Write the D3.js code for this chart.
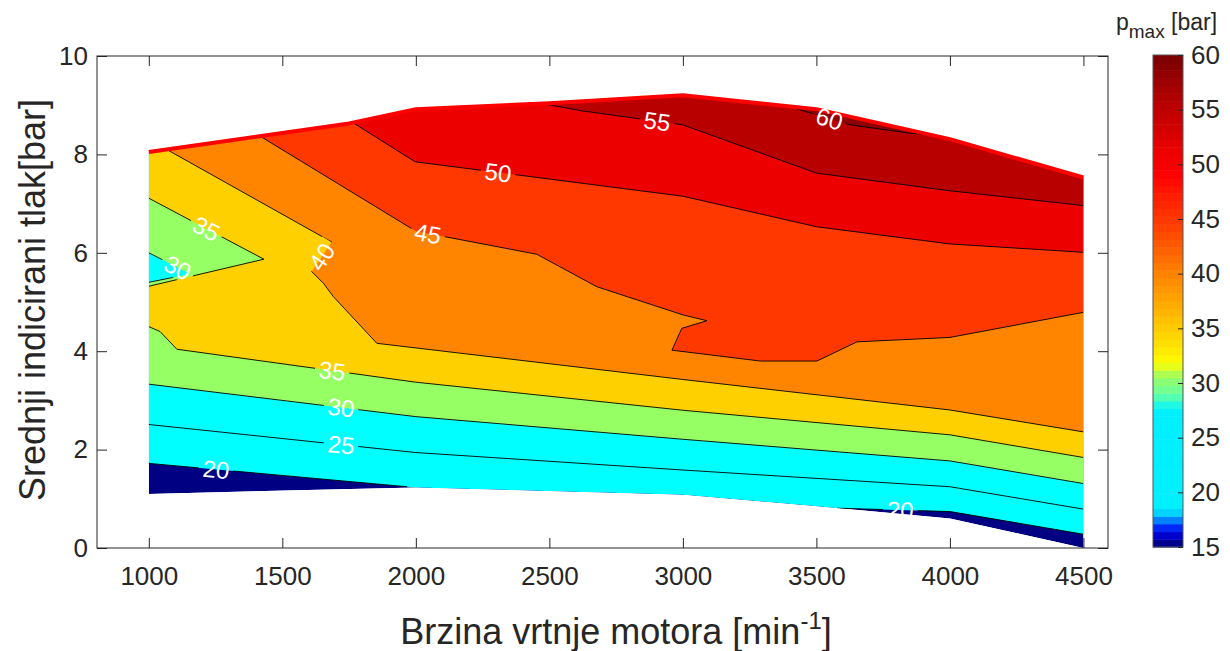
<!DOCTYPE html>
<html><head><meta charset="utf-8">
<script src="https://cdnjs.cloudflare.com/ajax/libs/d3/7.8.5/d3.min.js"></script>
<style>
body{margin:0;background:#fff;}
svg{display:block;font-family:"Liberation Sans",Arial,Helvetica,sans-serif;}
</style>
</head><body>
<svg id="c" width="1230" height="651"></svg>
<script>
// ---------------- data ----------------
const speedTicks = [1000,1500,2000,2500,3000,3500,4000,4500];
const loadTicks = [0,2,4,6,8,10];
const barTicks = [15,20,25,30,35,40,45,50,55,60];
const speedLimits = [806,4592];
const loadLimits = [0,10];
const pmaxLimits = [15,60];
const levels = [15,20,25,30,35,40,45,50,55,60];
const levelColors = ["#000082","#00ffff","#00ffff","#96ff64","#ffd000","#ff8500","#ff3800","#ec0000","#b80000","#8c0000"];
// operating range: min load (bottom) and max load (top, red line)
const minLoad = [[1000,1.10],[2000,1.23],[3000,1.08],[3500,0.85],[4000,0.60],[4500,0.0]];
const maxLoad = [[1000,8.05],[1750,8.63],[2000,8.92],[2500,9.04],[3000,9.2],[3500,8.92],[4000,8.31],[4500,7.53]];
// iso-lines of p_max [bar] : [rpm, bar]
const iso20a = [[1000,1.72],[1967,1.245]];
const iso20b = [[3577,0.81],[4001,0.74],[4500,0.28]];
const iso25 = [[1000,2.51],[2000,1.94],[3000,1.585],[4000,1.245],[4500,0.79]];
const iso30 = [[1000,3.33],[2000,2.67],[3000,2.21],[4000,1.77],[4500,1.31]];
const iso30b = [[1000,6.0],[1155,5.57],[1000,5.40]];
const iso35 = [[1000,4.50],[1042,4.40],[1105,4.04],[2000,3.37],[3000,2.80],[4000,2.30],[4500,1.84]];
const iso35b = [[1000,7.11],[1431,5.87],[1000,5.32]];
const iso40 = [[1067,8.10],[1685,6.22],[1610,5.62],[1654,5.38],[1691,5.11],[1854,4.16],[3000,3.425],[4000,2.805],[4500,2.36]];
const iso45 = [[1417,8.37],[2000,6.44],[2453,5.97],[2678,5.31],[3002,4.735],[3090,4.62],[2996,4.465],[2959,4.02],[3290,3.80],[3502,3.80],[3652,4.19],[4000,4.28],[4500,4.79]];
const iso50 = [[1766,8.64],[1997,7.85],[3000,7.15],[3500,6.53],[4000,6.18],[4500,6.01]];
const iso55 = [[2477,9.03],[2616,8.89],[3000,8.60],[3500,7.62],[4000,7.26],[4500,6.96]];
const iso60 = [[3400,8.97],[3626,8.60],[3852,8.43],[3927,8.40]];
const isoLines = [
  {level:20, pts:iso20a},{level:20, pts:iso20b},{level:25, pts:iso25},
  {level:30, pts:iso30},{level:30, pts:iso30b},{level:35, pts:iso35},{level:35, pts:iso35b},
  {level:40, pts:iso40},{level:45, pts:iso45},{level:50, pts:iso50},{level:55, pts:iso55},{level:60, pts:iso60}
];
// contour labels: which line, segment, fraction
const isoLabels = [
  {line:0, seg:0, t:0.26},{line:1, seg:0, t:0.56},{line:2, seg:0, t:0.72},{line:3, seg:0, t:0.72},
  {line:4, seg:0, t:0.70},{line:5, seg:2, t:0.65},{line:6, seg:0, t:0.50},{line:7, seg:1, t:0.50},
  {line:8, seg:1, t:0.10},{line:9, seg:1, t:0.31},{line:10, seg:1, t:0.75},{line:11, seg:0, t:0.66}
];
// colorbar colormap stops
const cmapStops = [[15,"#00006e"],[15.7,"#0000aa"],[16.3,"#0000e6"],[17.0,"#003cff"],[17.6,"#0096ff"],[18.4,"#00f0ff"],
  [27.7,"#00f0ff"],[28.3,"#3cffc8"],[29.2,"#6eff96"],[30.5,"#96ff69"],[31.2,"#c8ff37"],[31.8,"#ffff00"],[33.5,"#ffe100"],
  [38,"#ffa000"],[40,"#ff8200"],[44.6,"#ff3c00"],[47,"#ff1e00"],[49,"#ff0000"],[51.3,"#eb0000"],[55.9,"#b40000"],[60,"#780000"]];

// ---------------- scales ----------------
const svg = d3.select("#c");
const x = d3.scaleLinear().domain(speedLimits).range([97,1108]);
const y = d3.scaleLinear().domain(loadLimits).range([548,56]);
const toPx = p => [x(p[0]), y(p[1])];
const line = d3.line();
const ink = "#262626";

// layer order
const defs = svg.append("defs");
const gFill = svg.append("g").attr("clip-path","url(#dom)");
const gLines = svg.append("g").attr("clip-path","url(#dom)").append("g").attr("mask","url(#gaps)");
const gMax = svg.append("g");
const gLab = svg.append("g");
const gAx = svg.append("g");

// domain polygon (CCW in data space)
const domPx = minLoad.concat(maxLoad.slice().reverse()).map(toPx);
const n = domPx.length;
const cum = [0];
for (let i=0;i<n;i++){const a=domPx[i],b=domPx[(i+1)%n];cum.push(cum[i]+Math.hypot(b[0]-a[0],b[1]-a[1]));}
const total = cum[n];
function param(pt){
  let best=0,bd=Infinity;
  for(let i=0;i<n;i++){
    const a=domPx[i],b=domPx[(i+1)%n];
    const dx=b[0]-a[0],dy=b[1]-a[1],L2=dx*dx+dy*dy;
    let t=((pt[0]-a[0])*dx+(pt[1]-a[1])*dy)/L2; t=Math.max(0,Math.min(1,t));
    const px=a[0]+t*dx,py=a[1]+t*dy,d=Math.hypot(pt[0]-px,pt[1]-py);
    if(d<bd){bd=d;best=cum[i]+t*Math.sqrt(L2);}
  }
  return best;
}
function superlevel(pieces){
  const info = pieces.map(p=>({pts:p, ts:param(p[0]), te:param(p[p.length-1])}));
  const used = info.map(()=>false);
  const rings=[];
  for(let s=0;s<info.length;s++){
    if(used[s]) continue;
    const ring=[]; let cur=s;
    while(true){
      used[cur]=true; ring.push(...info[cur].pts);
      const te=info[cur].te;
      let best=-1,bd=Infinity;
      info.forEach((q,j)=>{const d=((q.ts-te)%total+total)%total; if(d<bd){bd=d;best=j;}});
      const verts=[];
      for(let k=0;k<n;k++){const d=((cum[k]-te)%total+total)%total; if(d>1e-6&&d<bd) verts.push([d,domPx[k]]);}
      verts.sort((a,b)=>a[0]-b[0]); verts.forEach(v=>ring.push(v[1]));
      cur=best; if(used[cur]) break;
    }
    rings.push(ring);
  }
  return rings.map(r=>line(r)+"Z").join("");
}

defs.append("clipPath").attr("id","dom").append("path").attr("d", line(domPx)+"Z");

// ---------------- filled bands ----------------
levels.forEach((L,i)=>{
  let d;
  if(i===0) d = line(domPx)+"Z";
  else {
    const pcs = isoLines.filter(c=>c.level===L).map(c=>c.pts.map(toPx));
    if(!pcs.length) return;
    d = superlevel(pcs);
  }
  gFill.append("path").attr("d",d).attr("fill",levelColors[i]).attr("stroke","none");
});

// ---------------- labels (positions computed on lines) ----------------
const labelInfo = isoLabels.map(lb=>{
  const pts = isoLines[lb.line].pts.map(toPx);
  const a=pts[lb.seg], b=pts[lb.seg+1];
  const px=a[0]+(b[0]-a[0])*lb.t, py=a[1]+(b[1]-a[1])*lb.t;
  let ang=Math.atan2(b[1]-a[1],b[0]-a[0])*180/Math.PI;
  if(ang>90) ang-=180; if(ang<-90) ang+=180;
  return {x:px,y:py,ang,text:String(isoLines[lb.line].level)};
});
const mask = defs.append("mask").attr("id","gaps").attr("maskUnits","userSpaceOnUse")
  .attr("x",0).attr("y",0).attr("width",1230).attr("height",651);
mask.append("rect").attr("width",1230).attr("height",651).attr("fill","#fff");
labelInfo.forEach(l=>{
  const t = gLab.append("text").attr("transform",`translate(${l.x},${l.y}) rotate(${l.ang})`)
    .attr("text-anchor","middle").attr("dy","0.36em").attr("fill","#fff")
    .style("font-size","24px").text(l.text);
  const w = t.node().getComputedTextLength()+8;
  mask.append("rect").attr("x",-w/2).attr("y",-11).attr("width",w).attr("height",22)
    .attr("transform",`translate(${l.x},${l.y}) rotate(${l.ang})`).attr("fill","#000");
});

// ---------------- contour lines ----------------
isoLines.forEach(c=>{
  gLines.append("path").attr("d",line(c.pts.map(toPx))).attr("fill","none")
    .attr("stroke","#000").attr("stroke-width",0.9).attr("stroke-linejoin","round");
});
// max load line
gMax.append("path").attr("d",line(maxLoad.map(toPx))).attr("fill","none")
  .attr("stroke","#ff0000").attr("stroke-width",4).attr("stroke-linejoin","round");

// ---------------- axes ----------------
const fmt = d3.format("d");
gAx.append("rect").attr("x",97).attr("y",56).attr("width",1011).attr("height",492)
  .attr("fill","none").attr("stroke",ink).attr("stroke-width",1);
const xb = gAx.append("g").attr("transform","translate(0,548)")
  .call(d3.axisBottom(x).tickValues(speedTicks).tickFormat(fmt).tickSizeInner(-10).tickSizeOuter(0).tickPadding(19));
const xt = gAx.append("g").attr("transform","translate(0,56)")
  .call(d3.axisTop(x).tickValues(speedTicks).tickSizeInner(-10).tickSizeOuter(0).tickFormat(""));
const yl = gAx.append("g").attr("transform","translate(97,0)")
  .call(d3.axisLeft(y).tickValues(loadTicks).tickFormat(fmt).tickSizeInner(-10).tickSizeOuter(0).tickPadding(9));
const yr = gAx.append("g").attr("transform","translate(1108,0)")
  .call(d3.axisRight(y).tickValues(loadTicks).tickSizeInner(-10).tickSizeOuter(0).tickFormat(""));
[xb,xt,yl,yr].forEach(g=>{
  g.select(".domain").remove();
  g.selectAll("line").attr("stroke",ink);
  g.selectAll("text").attr("fill",ink).style("font-size","26px").attr("font-family",null);
});

gAx.append("text").attr("x",616).attr("y",644).attr("text-anchor","middle").attr("fill",ink)
  .style("font-size","36px")
  .call(t=>{t.append("tspan").text("Brzina vrtnje motora [min");
    t.append("tspan").attr("dy",-15).style("font-size","24px").text("-1");
    t.append("tspan").attr("dy",15).text("]");});
gAx.append("text").attr("transform","translate(45,300) rotate(-90)").attr("text-anchor","middle")
  .attr("fill",ink).style("font-size","36px").text("Srednji indicirani tlak[bar]");

// ---------------- colorbar ----------------
const cb = d3.scaleLinear().domain(pmaxLimits).range([547,55]);
const cmap = d3.scaleLinear().domain(cmapStops.map(s=>s[0])).range(cmapStops.map(s=>s[1])).interpolate(d3.interpolateRgb);
const nSteps = 64, step=(pmaxLimits[1]-pmaxLimits[0])/nSteps;
const gcb = svg.append("g");
d3.range(nSteps).forEach(i=>{
  const v0=pmaxLimits[0]+i*step, v1=v0+step;
  gcb.append("rect").attr("x",1153).attr("width",30).attr("y",cb(v1)).attr("height",cb(v0)-cb(v1)+0.5)
    .attr("fill",cmap(v0+step/2));
});
gcb.append("rect").attr("x",1153).attr("y",55).attr("width",30).attr("height",492)
  .attr("fill","none").attr("stroke","#555").attr("stroke-width",1);
const cba = svg.append("g").attr("transform","translate(1183,0)")
  .call(d3.axisRight(cb).tickValues(barTicks).tickFormat(fmt).tickSizeInner(-5).tickSizeOuter(0).tickPadding(8));
cba.select(".domain").remove();
cba.selectAll("line").attr("stroke",ink);
cba.selectAll("text").attr("fill",ink).style("font-size","26px").attr("font-family",null);

svg.append("text").attr("x",1116).attr("y",30).attr("fill",ink).style("font-size","23px")
  .call(t=>{t.append("tspan").text("p");
    t.append("tspan").attr("dy",8).style("font-size","19px").text("max");
    t.append("tspan").attr("dy",-8).text(" [bar]");});
</script>
</body></html>
